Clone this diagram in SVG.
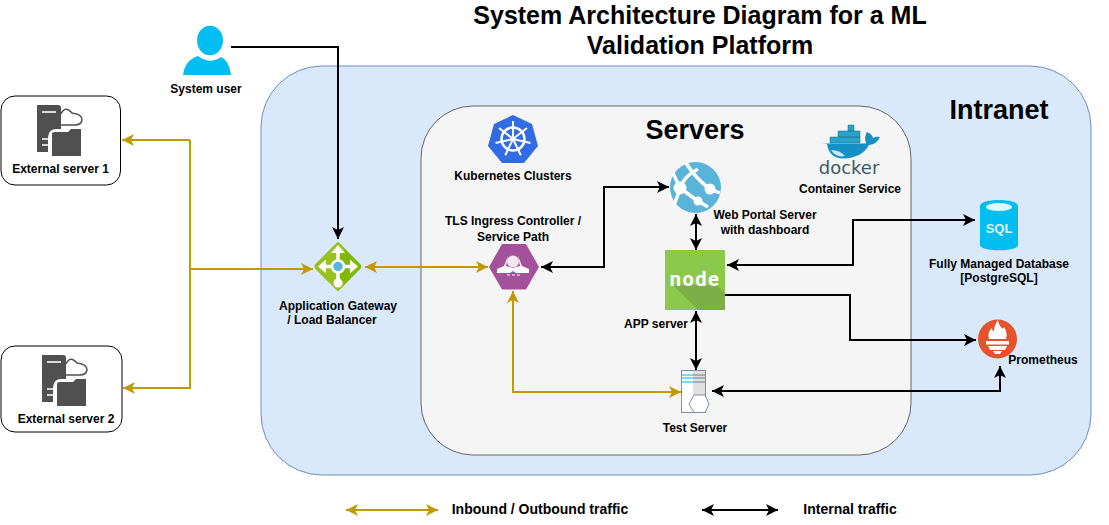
<svg xmlns="http://www.w3.org/2000/svg" width="1109" height="525" viewBox="0 0 1109 525">
<style>
text{font-family:"Liberation Sans",Arial,sans-serif;font-weight:700;fill:#000;text-anchor:middle}
.l{font-size:12px}
.h{font-size:25px}
.m{font-size:27px}
.lg{font-size:14px}
.g{fill:none;stroke:#BF9A00;stroke-width:2}
.k{fill:none;stroke:#000;stroke-width:2}
.gs{marker-end:url(#ag)}
.gb{marker-start:url(#ags);marker-end:url(#ag)}
.ks{marker-end:url(#ak)}
.kb{marker-start:url(#aks);marker-end:url(#ak)}
.sv{fill:#505050}
</style>
<defs>
<marker id="ag" markerUnits="userSpaceOnUse" markerWidth="14" markerHeight="14" refX="13" refY="7" orient="auto"><path d="M1,1 L13,7 L1,13 L4,7Z" fill="#BF9A00"/></marker>
<marker id="ags" markerUnits="userSpaceOnUse" markerWidth="14" markerHeight="14" refX="1" refY="7" orient="auto"><path d="M13,1 L1,7 L13,13 L10,7Z" fill="#BF9A00"/></marker>
<marker id="ak" markerUnits="userSpaceOnUse" markerWidth="14" markerHeight="14" refX="13" refY="7" orient="auto"><path d="M1,1 L13,7 L1,13 L4,7Z" fill="#000"/></marker>
<marker id="aks" markerUnits="userSpaceOnUse" markerWidth="14" markerHeight="14" refX="1" refY="7" orient="auto"><path d="M13,1 L1,7 L13,13 L10,7Z" fill="#000"/></marker>
<g id="srv"><path class="sv" d="M37,0H58Q61,0 61,3V24H55Q48,25 48,33V47H37Z"/><path d="M42,7H56" stroke="#fff" stroke-width="1.600"/><path d="M42,34H50M42,40H50" stroke="#fff" stroke-width="1.600"/><path d="M61,9Q65,0 72,8Q82,9 82,15Q81,20 75,20H61" fill="none" stroke="#505050" stroke-width="1.500"/><path class="sv" d="M52,29Q52,27 55,27H68L71,24H81V51H52Z"/></g>
</defs>
<text class="h" x="700" y="24">System Architecture Diagram for a ML</text>
<text class="h" x="700" y="54">Validation Platform</text>
<g id="intranet"><rect x="261" y="66" width="830" height="409" rx="61" fill="#dae8fc" stroke="#6c8ebf"/><text class="m" x="999" y="119">Intranet</text></g>
<g id="servers"><rect x="421" y="106" width="490" height="349" rx="52" fill="#f5f5f5" stroke="#666"/><text class="m" x="695" y="139">Servers</text></g>
<g id="connectors">
<path class="k ks" d="M231,47H338V239"/>
<path class="g gs" d="M190,269H313"/>
<path class="g gs" d="M190,140H122"/>
<path class="g gs" d="M190,269V388H123"/>
<path class="g" d="M190,140V269"/>
<path class="g gb" d="M365,267H488"/>
<path class="g gb" d="M681,392H513V291"/>
<path class="k kb" d="M541,267H604V187H669"/>
<path class="k kb" d="M696,214V250"/>
<path class="k kb" d="M727,265H853V220H975"/>
<path class="k ks" d="M725,295H850V340H976"/>
<path class="k kb" d="M696,311V370"/>
<path class="k kb" d="M712,391H1000V366"/>
<path class="g gb" d="M346,510H438"/>
<path class="k kb" d="M702,510H778"/>
</g>
<g id="system-user"><ellipse cx="210" cy="40.500" rx="13" ry="14.700" fill="#00BEF2"/><path d="M183,75Q185,60 198,56Q210,65 221,57Q229,60 231,75Z" fill="#00BEF2"/><text class="l" x="206" y="93">System user</text></g>
<g id="external-server-1"><rect x="1" y="96" width="119.500" height="89" rx="14" fill="#fff" stroke="#000"/><use href="#srv" transform="translate(0,105)"/><text class="l" x="60.500" y="173">External server 1</text></g>
<g id="external-server-2"><rect x="1" y="346" width="121" height="86" rx="14" fill="#fff" stroke="#000"/><use href="#srv" transform="translate(5,355)"/><text class="l" x="66" y="423">External server 2</text></g>
<g id="gateway"><rect x="320.500" y="249" width="35" height="35" rx="4" transform="rotate(45 338 266.500)" fill="#7FBA00"/><path d="M338,241.500L316,263.500Q313,266.500 316,269.500L338,291.500L345,284L331,266.500L345,249Z" fill="#97C11F"/><path d="M338,250V283M323,266.500H353" stroke="#fff" stroke-width="3.500"/><path d="M338,245l-7,8h14zM318,266.500l8,-7v14zM358,266.500l-8,-7v14z" fill="#fff"/><circle cx="338" cy="283" r="4.500" fill="#fff"/><circle cx="338" cy="266.500" r="6" fill="#59B4D9" stroke="#fff" stroke-width="2.500"/><text class="l" x="338" y="310">Application Gateway</text><text class="l" x="332" y="324">/ Load Balancer</text></g>
<g id="ingress"><path d="M489,267L502,244H526L539,267L526,289.500H502Z" fill="#A4519B"/><circle cx="513" cy="261.500" r="6" fill="#f3e6f1"/><path d="M508,256L504,266L497,269V273H510L513,271L516,273H529V269L522,266L518,256L520,266L513,268L506,266Z" fill="#fff"/><path d="M507,275h3M512,275h3M517,275h3" stroke="#fff" stroke-width="1.200"/><text class="l" x="513" y="225">TLS Ingress Controller /</text><text class="l" x="513" y="241">Service Path</text></g>
<g id="kubernetes"><path d="M513,115L532,124L538,146L524,163H502L488,146L494,124Z" fill="#326CE5"/><circle cx="513" cy="139" r="11.500" fill="none" stroke="#fff" stroke-width="2.500"/><circle cx="513" cy="139" r="3" fill="#fff"/><path d="M513,121V136M527,128L515.500,137M530.500,143L516,139.700M520.800,155.200L514.300,141.700M505.200,155.200L511.700,141.700M495.500,143L510,139.700M499,128L510.500,137" stroke="#fff" stroke-width="2"/><text class="l" x="513" y="180">Kubernetes Clusters</text></g>
<g id="web-portal"><circle cx="695.500" cy="187.500" r="25.500" fill="#59B4D9"/><path d="M673,173L680,188M686,163Q695,178 710,189L720,193M680,188Q684,176 698,169M680,188Q677,198 674,205M680,188Q688,194 698,201L708,207" fill="none" stroke="#fff" stroke-width="3.500"/><circle cx="680" cy="188" r="6.500" fill="#fff"/><circle cx="710" cy="189" r="5.500" fill="#fff"/><circle cx="698" cy="201" r="4.500" fill="#fff"/><text class="l" x="765" y="219">Web Portal Server</text><text class="l" x="765" y="234">with dashboard</text></g>
<g id="app-server"><rect x="665" y="250" width="60" height="60" fill="#8CC84B"/><path d="M673,285L698,310H725V293L717,285Z" fill="#7CAF45"/><text x="695" y="286" style="font-size:20px;fill:#fff;letter-spacing:1.500px;font-family:Roboto,sans-serif">node</text><text class="l" x="656" y="328">APP server</text></g>
<g id="test-server"><rect x="681.500" y="370.500" width="24" height="42" fill="#fff" stroke="#7c8fb0"/><rect x="693" y="371" width="12" height="41" fill="#e0e0e0"/><path d="M693,375H705M693,378H705M693,382H705" stroke="#6e7b8f" stroke-width="1"/><path d="M682,375H693M682,378H693M682,382H693" stroke="#4fd0f5" stroke-width="1.500"/><path d="M694,395H705L709,404L705,412.500H694L689,404Z" fill="#fff" stroke="#7c8fb0"/><text class="l" x="695" y="432">Test Server</text></g>
<g id="docker"><path d="M822,143.500H866Q864,136 867,132Q872,134 873,138Q876,136 880,137Q877,144 869,145Q862,158 843,158.500Q829,158 827,144Z" fill="#1490c4"/><path d="M830,137h30v6h-30ZM838,131h22v6h-22ZM848,125h6v6h-6Z" fill="#2aa3c9" stroke="#126e8f" stroke-width=".5"/><path d="M831,150Q840,150 845,156Q836,158 831,150Z" fill="#cfe7ef"/><text x="849" y="174" style="font-size:18px;font-weight:400;fill:#3c5868;font-family:'DejaVu Sans',sans-serif">docker</text><text class="l" x="850" y="193">Container Service</text></g>
<g id="database"><path d="M980,206C980,198 1018,198 1018,206V245C1018,252 980,252 980,245Z" fill="#00BEF2"/><ellipse cx="999" cy="207" rx="13" ry="4" fill="#dff6fd"/><text x="999" y="233" style="font-size:13px;fill:#dff6fd">SQL</text><text class="l" x="999" y="268">Fully Managed Database</text><text class="l" x="999" y="282">[PostgreSQL]</text></g>
<g id="prometheus"><circle cx="997.500" cy="339" r="19.500" fill="#E6522C"/><path d="M989,339Q987,332 992,328Q992,331 994,331Q994,326 998,320Q999,326 1002,328Q1003,330 1004,327Q1008,333 1006,339Z" fill="#fff"/><path d="M986,341H1009V344.500H986ZM988,346H1007L1005,350H990ZM993,351H1002L1000,354H995Z" fill="#fff"/><text class="l" x="1043" y="364">Prometheus</text></g>
<g id="legend"><text class="lg" x="540" y="514">Inbound / Outbound traffic</text><text class="lg" x="850" y="514">Internal traffic</text></g>
</svg>
